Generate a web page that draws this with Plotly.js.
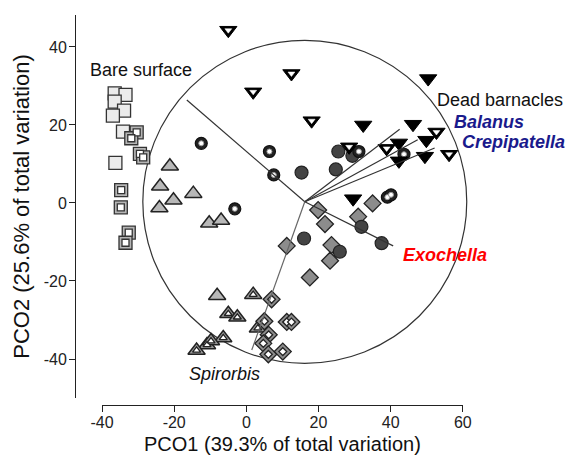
<!DOCTYPE html>
<html>
<head>
<meta charset="utf-8">
<script src="https://cdn.plot.ly/plotly-3.0.1.min.js"></script>
<style>html,body{margin:0;padding:0;background:#fff;}#chart{width:565px;height:457px;}</style>
</head>
<body>
<div id="chart"></div>
<script>
// ---- Data (PCO scores) ----
const bareX = [-36.5, -33.5, -36.5, -33.9, -37.0, -34.2, -36.3];
const bareY = [28.1, 27.7, 26.0, 23.7, 22.4, 18.3, 10.3];

const sqDoubleX = [-30.4, -31.9, -29.5, -28.6, -34.7, -34.8, -32.6, -33.5];
const sqDoubleY = [18.1, 16.6, 12.6, 11.7, 3.3, -1.1, -7.6, -10.2];

const triGrayX = [-21.2, -23.9, -20.2, -14.7, -24.1, -10.3, -7.0, -8.1];
const triGrayY = [9.4, 4.3, 0.7, 2.4, -1.3, -5.2, -4.5, -23.8];

const triDoubleX = [1.9, -5.0, -2.5, -6.4, -10.9, -9.8, -13.8, 3.2];
const triDoubleY = [-23.5, -28.4, -29.3, -34.6, -36.4, -35.4, -37.8, -32.1];

const diaGrayX = [19.9, 21.8, 11.2, 23.6, 23.2, 17.6, 31.0, 35.0];
const diaGrayY = [-1.8, -5.4, -11.0, -10.8, -14.8, -19.1, -3.5, -0.1];

const diaDoubleX = [7.0, 5.0, 11.2, 12.5, 6.2, 4.7, 6.1, 10.1];
const diaDoubleY = [-24.7, -30.3, -30.5, -30.5, -33.8, -36.0, -38.8, -38.1];

const circDarkX = [25.5, 29.4, 15.3, 24.8, 16.0, 25.9, 31.9, 37.5];
const circDarkY = [13.2, 12.1, 7.8, 8.6, -9.1, -12.5, -6.1, -10.3];

const ringX = [-12.5, 6.4, 7.6, -3.2, 31.2, 43.7, 39.1, 40.1];
const ringY = [15.3, 13.2, 7.2, -1.5, 13.2, 12.5, 1.5, 2.1];

const downBlackX = [50.4, 32.4, 46.2, 42.3, 49.9, 49.5, 42.3, 29.6];
const downBlackY = [31.9, 20.0, 20.2, 15.4, 16.1, 12.0, 10.8, 1.1];

const downDoubleX = [-5.0, 12.5, 1.9, 18.1, 28.5, 38.9, 52.7, 56.2];
const downDoubleY = [44.3, 33.2, 28.5, 21.1, 14.4, 14.0, 18.2, 12.5];

// Vector overlay (correlation vectors) and circle
const vecOrigin = [16.2, 0.3];
const vecNames = ['Bare surface', 'Dead barnacles', 'Balanus', 'Crepipatella', 'Exochella', 'Spirorbis'];
const vecEndX = [-16.5, 42.5, 47.5, 52.2, 40.7, 1.5];
const vecEndY = [26.4, 18.9, 16.2, 14.1, -11.0, -37.7];
const circleRadiusX = 44.9;
const circleRadiusY = 41.4;

// Axis ticks
const xTickVals = [-40, -20, 0, 20, 40, 60];
const xTickText = ['-40', '-20', '0', '20', '40', '60'];
const yTickVals = [-40, -20, 0, 20, 40];
const yTickText = ['-40', '-20', '0', '20', '40'];

// ---- Build traces ----
const ink = '#222';
function mk(x, y, symbol, size, fill, lineColor, lineWidth) {
  return {
    x: x, y: y, type: 'scatter', mode: 'markers', cliponaxis: false,
    hoverinfo: 'skip', showlegend: false,
    marker: {symbol: symbol, size: size, color: fill, line: {color: lineColor, width: lineWidth}}
  };
}

const traces = [
  mk(bareX, bareY, 'square', 13, '#ebebeb', '#333', 1.3),
  mk(sqDoubleX, sqDoubleY, 'square', 13, '#b5b5b5', '#333', 1.3),
  mk(sqDoubleX, sqDoubleY, 'square', 7, '#ffffff', '#333', 1.3),
  mk(triGrayX, triGrayY, 'triangle-up', 15, '#b8b8b8', '#222', 1.5),
  mk(triDoubleX, triDoubleY, 'triangle-up', 15, '#9a9a9a', '#222', 1.5),
  mk(triDoubleX, triDoubleY, 'triangle-up', 7, '#ffffff', '#222', 1.3),
  mk(diaGrayX, diaGrayY, 'diamond', 13, '#8c8c8c', '#222', 1.3),
  mk(diaDoubleX, diaDoubleY, 'diamond', 13, '#8c8c8c', '#222', 1.3),
  mk(diaDoubleX, diaDoubleY, 'diamond', 6, '#ffffff', '#222', 1.3),
  mk(circDarkX, circDarkY, 'circle', 13, '#444', '#222', 1.2),
  mk(ringX, ringY, 'circle', 12, '#222', '#111', 1.2),
  mk(ringX, ringY, 'circle', 5, '#ffffff', '#999', 1),
  mk(downBlackX, downBlackY, 'triangle-down', 15, '#000', '#000', 1),
  mk(downDoubleX, downDoubleY, 'triangle-down', 15, '#000', '#000', 1),
  mk(downDoubleX, downDoubleY, 'triangle-down', 6, '#ffffff', '#ffffff', 0.5)
];

// vectors
for (let i = 0; i < vecEndX.length; i++) {
  traces.push({
    x: [vecOrigin[0], vecEndX[i]], y: [vecOrigin[1], vecEndY[i]],
    type: 'scatter', mode: 'lines', hoverinfo: 'skip', showlegend: false,
    line: {color: vecNames[i] === 'Spirorbis' ? '#666' : '#333', width: 1.2}
  });
}
// dummy trace for the tick axis
traces.push({x: [], y: [], type: 'scatter', mode: 'markers', xaxis: 'x2', yaxis: 'y', showlegend: false, hoverinfo: 'skip'});

// ---- Layout ----
const xDataRange = [-47.5, 62];
const span = xDataRange[1] - xDataRange[0];
const xTickDomain = [(xTickVals[0] - xDataRange[0]) / span, (xTickVals[xTickVals.length - 1] - xDataRange[0]) / span];

const fontFam = 'Liberation Sans, Arial, sans-serif';
const layout = {
  width: 565, height: 457,
  margin: {l: 75, r: 95, t: 15, b: 52},
  paper_bgcolor: '#fff', plot_bgcolor: 'rgba(0,0,0,0)',
  font: {family: fontFam, color: '#111'},
  showlegend: false,
  hovermode: false,
  xaxis: {range: xDataRange, visible: false, showgrid: false, zeroline: false},
  xaxis2: {
    range: [xTickVals[0], xTickVals[xTickVals.length - 1]], domain: xTickDomain,
    anchor: 'free', position: 0,
    showline: true, linecolor: ink, linewidth: 1,
    ticks: 'outside', ticklen: 6, tickwidth: 1, tickcolor: ink,
    ticklabelstandoff: -3,
    tickvals: xTickVals, ticktext: xTickText, tickfont: {size: 16, color: '#222'},
    showgrid: false, zeroline: false,
    title: {text: 'PCO1 (39.3% of total variation)', font: {size: 20, color: '#111'}, standoff: 6}
  },
  yaxis: {
    range: [-50, 48.2], domain: [7 / 390, 1],
    anchor: 'free', position: 0,
    showline: true, linecolor: ink, linewidth: 1,
    ticks: 'outside', ticklen: 6, tickwidth: 1, tickcolor: ink,
    ticklabelstandoff: -1,
    tickvals: yTickVals, ticktext: yTickText, tickfont: {size: 16, color: '#222'},
    showgrid: false, zeroline: false,
    title: {text: 'PCO2 (25.6% of total variation)', font: {size: 22, color: '#111'}, standoff: 6}
  },
  shapes: [{
    type: 'circle', xref: 'x', yref: 'y', layer: 'below',
    x0: vecOrigin[0] - circleRadiusX, x1: vecOrigin[0] + circleRadiusX,
    y0: vecOrigin[1] - circleRadiusY, y1: vecOrigin[1] + circleRadiusY,
    line: {color: '#333', width: 1.2}
  }],
  annotations: [
    {text: 'Bare surface', x: -43.8, y: 34.1, xanchor: 'left', yanchor: 'middle', font: {size: 18, color: '#111'}},
    {text: 'Dead barnacles', x: 52.2, y: 26.4, xanchor: 'left', yanchor: 'middle', font: {size: 18, color: '#111'}},
    {text: '<b><i>Balanus</i></b>', x: 56.9, y: 20.8, xanchor: 'left', yanchor: 'middle', font: {size: 18, color: '#1a1a8c'}},
    {text: '<b><i>Crepipatella</i></b>', x: 59.2, y: 15.7, xanchor: 'left', yanchor: 'middle', font: {size: 18, color: '#1a1a8c'}},
    {text: '<b><i>Exochella</i></b>', x: 43.0, y: -13.3, xanchor: 'left', yanchor: 'middle', font: {size: 18, color: '#ff0000'}},
    {text: '<i>Spirorbis</i>', x: -16.4, y: -43.8, xanchor: 'left', yanchor: 'middle', font: {size: 18, color: '#111'}}
  ].map(a => Object.assign({xref: 'x', yref: 'y', showarrow: false}, a))
};

Plotly.newPlot('chart', traces, layout, {staticPlot: true, displayModeBar: false});
</script>
</body>
</html>
